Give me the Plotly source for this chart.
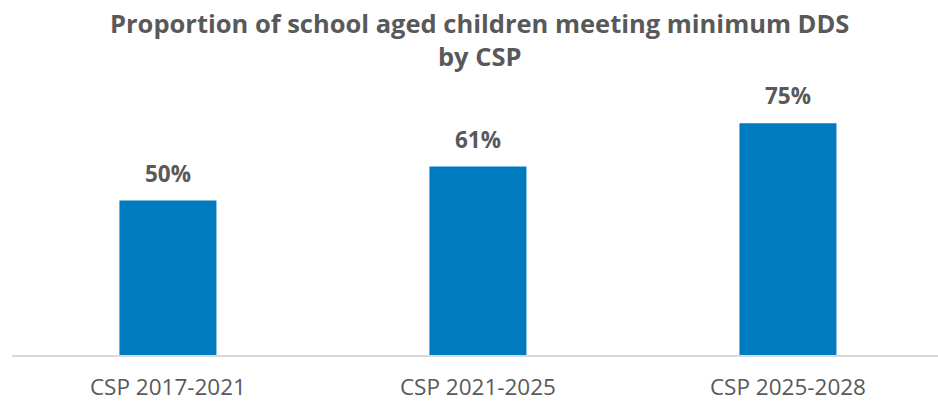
import plotly.graph_objects as go

# Chart data
categories = ["CSP 2017-2021", "CSP 2021-2025", "CSP 2025-2028"]
shares = [50, 61, 75]
value_labels = ["50%", "61%", "75%"]
title_lines = ["Proportion of school aged children meeting minimum DDS", "by CSP"]

BAR_BLUE = "#007BBF"
TEXT_GREY = "#595959"
FONT = "Open Sans"

fig = go.Figure(
    go.Bar(
        x=categories,
        y=shares,
        marker=dict(color=BAR_BLUE, line=dict(width=0)),
        width=0.313,
        hoverinfo="skip",
    )
)

# Value labels sitting above each bar
for cat, val, lab in zip(categories, shares, value_labels):
    fig.add_annotation(
        x=cat, y=val, text=f"<b>{lab}</b>", showarrow=False,
        yanchor="bottom", yshift=10,
        font=dict(family=FONT, size=22.5, color=TEXT_GREY),
    )

# Two-line chart title
fig.add_annotation(
    xref="paper", yref="paper", x=0.505, y=1.263,
    xanchor="center", yanchor="top", showarrow=False,
    text="<b>" + "<br>".join(title_lines) + "</b>",
    font=dict(family=FONT, size=25.5, color=TEXT_GREY),
)

fig.update_layout(
    width=938, height=403,
    margin=dict(l=12, r=0, t=77, b=48),
    paper_bgcolor="white", plot_bgcolor="white",
    showlegend=False,
    xaxis=dict(
        range=[-0.503, 2.484],
        showgrid=False, zeroline=False,
        showline=True, linecolor="#D9D9D9", linewidth=1.5,
        ticks="", ticklabelstandoff=11,
        tickfont=dict(family=FONT, size=22.5, color=TEXT_GREY),
    ),
    yaxis=dict(
        range=[0, 90], visible=False, showgrid=False, zeroline=False,
    ),
)

fig.write_html("out.html")
